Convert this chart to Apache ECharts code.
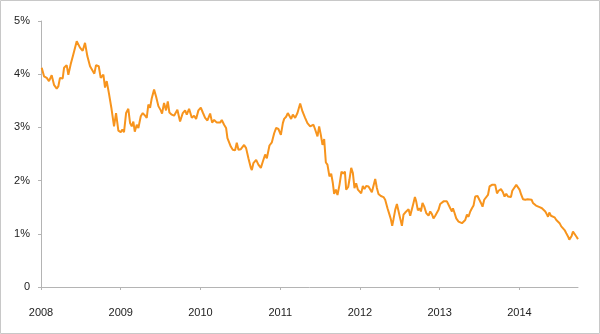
<!DOCTYPE html>
<html>
<head>
<meta charset="utf-8">
<script src="https://cdn.jsdelivr.net/npm/echarts@6/dist/echarts.min.js"></script>
<style>
  html, body { margin: 0; padding: 0; background: #fff; }
  #chart { width: 600px; height: 334px; }
</style>
</head>
<body>
<div id="chart"></div>
<script>
// time in decimal years, rate in percent
var years = [
  2008.009, 2008.038, 2008.072, 2008.100, 2008.134, 2008.163, 2008.197, 2008.217, 2008.238, 2008.272,
  2008.289, 2008.322, 2008.343, 2008.373, 2008.405, 2008.418, 2008.448, 2008.468, 2008.489, 2008.523,
  2008.552, 2008.581, 2008.615, 2008.640, 2008.669, 2008.690, 2008.724, 2008.749, 2008.782, 2008.803,
  2008.824, 2008.853, 2008.882, 2008.916, 2008.941, 2008.970, 2009.000, 2009.020, 2009.041, 2009.067,
  2009.095, 2009.117, 2009.138, 2009.158, 2009.176, 2009.201, 2009.221, 2009.251, 2009.276, 2009.305,
  2009.326, 2009.346, 2009.368, 2009.389, 2009.418, 2009.443, 2009.472, 2009.502, 2009.518, 2009.543,
  2009.568, 2009.590, 2009.610, 2009.640, 2009.669, 2009.694, 2009.710, 2009.744, 2009.778, 2009.807,
  2009.828, 2009.857, 2009.891, 2009.920, 2009.945, 2009.974, 2010.004, 2010.029, 2010.058, 2010.087,
  2010.121, 2010.146, 2010.171, 2010.205, 2010.246, 2010.267, 2010.296, 2010.321, 2010.338, 2010.363,
  2010.380, 2010.405, 2010.434, 2010.455, 2010.476, 2010.506, 2010.531, 2010.547, 2010.572, 2010.601,
  2010.631, 2010.644, 2010.664, 2010.698, 2010.726, 2010.757, 2010.782, 2010.811, 2010.832, 2010.865,
  2010.895, 2010.924, 2010.949, 2010.977, 2011.008, 2011.033, 2011.049, 2011.074, 2011.095, 2011.115,
  2011.137, 2011.158, 2011.187, 2011.216, 2011.250, 2011.279, 2011.312, 2011.341, 2011.375, 2011.397,
  2011.417, 2011.438, 2011.467, 2011.488, 2011.509, 2011.530, 2011.551, 2011.572, 2011.592, 2011.617,
  2011.639, 2011.660, 2011.676, 2011.698, 2011.718, 2011.743, 2011.768, 2011.789, 2011.811, 2011.827,
  2011.852, 2011.868, 2011.890, 2011.911, 2011.931, 2011.952, 2011.974, 2011.994, 2012.015, 2012.036,
  2012.056, 2012.078, 2012.107, 2012.128, 2012.149, 2012.169, 2012.191, 2012.212, 2012.232, 2012.262,
  2012.295, 2012.316, 2012.345, 2012.370, 2012.388, 2012.404, 2012.420, 2012.442, 2012.463, 2012.483,
  2012.504, 2012.526, 2012.546, 2012.567, 2012.588, 2012.609, 2012.630, 2012.651, 2012.671, 2012.689,
  2012.705, 2012.726, 2012.747, 2012.764, 2012.784, 2012.806, 2012.831, 2012.860, 2012.881, 2012.902,
  2012.922, 2012.944, 2012.965, 2012.985, 2013.006, 2013.028, 2013.048, 2013.069, 2013.090, 2013.110,
  2013.132, 2013.153, 2013.166, 2013.186, 2013.207, 2013.236, 2013.257, 2013.279, 2013.299, 2013.320,
  2013.341, 2013.361, 2013.383, 2013.404, 2013.424, 2013.445, 2013.474, 2013.496, 2013.517, 2013.537,
  2013.558, 2013.583, 2013.605, 2013.625, 2013.655, 2013.675, 2013.696, 2013.718, 2013.738, 2013.768,
  2013.793, 2013.813, 2013.834, 2013.856, 2013.876, 2013.893, 2013.910, 2013.935, 2013.960, 2013.981,
  2014.001, 2014.023, 2014.044, 2014.073, 2014.102, 2014.127, 2014.152, 2014.169, 2014.190, 2014.207,
  2014.227, 2014.252, 2014.282, 2014.302, 2014.324, 2014.345, 2014.358, 2014.374, 2014.395, 2014.420,
  2014.440, 2014.462, 2014.483, 2014.503, 2014.524, 2014.546, 2014.566, 2014.587, 2014.609, 2014.625,
  2014.641, 2014.654, 2014.671, 2014.691, 2014.713, 2014.734
];
var rates = [
  4.12, 3.96, 3.93, 3.87, 3.98, 3.80, 3.73, 3.77, 3.93, 3.92,
  4.12, 4.17, 3.99, 4.19, 4.37, 4.40, 4.62, 4.61, 4.50, 4.44,
  4.59, 4.34, 4.15, 4.18, 4.01, 4.17, 4.15, 3.93, 3.99, 3.75,
  3.87, 3.63, 3.37, 3.02, 3.27, 2.94, 2.91, 2.96, 2.91, 3.27,
  3.35, 3.08, 3.02, 3.11, 2.92, 3.05, 2.99, 3.21, 3.27, 3.22,
  3.18, 3.43, 3.37, 3.55, 3.71, 3.58, 3.40, 3.32, 3.26, 3.46,
  3.32, 3.49, 3.28, 3.24, 3.22, 3.24, 3.33, 3.11, 3.27, 3.32,
  3.24, 3.35, 3.18, 3.22, 3.16, 3.32, 3.37, 3.28, 3.18, 3.13,
  3.26, 3.09, 3.14, 3.09, 3.09, 3.14, 3.05, 2.99, 2.80, 2.83,
  2.64, 2.58, 2.57, 2.71, 2.58, 2.59, 2.58, 2.67, 2.61, 2.42,
  2.24, 2.20, 2.33, 2.39, 2.30, 2.24, 2.36, 2.49, 2.42, 2.66,
  2.72, 2.89, 2.99, 2.97, 2.86, 3.08, 3.16, 3.20, 3.27, 3.24,
  3.16, 3.24, 3.18, 3.27, 3.45, 3.30, 3.18, 3.08, 3.02, 3.01,
  3.05, 2.96, 2.83, 3.02, 2.86, 2.67, 2.78, 2.34, 2.30, 2.08,
  2.13, 1.95, 1.75, 1.83, 1.73, 1.92, 2.17, 2.13, 2.17, 1.83,
  1.88, 2.02, 2.24, 2.14, 1.86, 1.95, 1.83, 1.84, 1.76, 1.90,
  1.84, 1.90, 1.89, 1.88, 1.78, 1.78, 2.03, 1.86, 1.75, 1.71,
  1.69, 1.64, 1.48, 1.36, 1.27, 1.15, 1.27, 1.45, 1.56, 1.53,
  1.29, 1.15, 1.36, 1.40, 1.39, 1.46, 1.34, 1.32, 1.58, 1.69,
  1.61, 1.44, 1.48, 1.42, 1.58, 1.51, 1.39, 1.34, 1.42, 1.37,
  1.29, 1.34, 1.31, 1.45, 1.56, 1.56, 1.61, 1.64, 1.61, 1.61,
  1.48, 1.42, 1.48, 1.39, 1.29, 1.23, 1.23, 1.20, 1.23, 1.26,
  1.36, 1.32, 1.42, 1.48, 1.53, 1.70, 1.71, 1.70, 1.58, 1.51,
  1.64, 1.65, 1.73, 1.89, 1.92, 1.95, 1.92, 1.76, 1.81, 1.84,
  1.78, 1.70, 1.75, 1.70, 1.73, 1.69, 1.81, 1.83, 1.92, 1.92,
  1.83, 1.73, 1.65, 1.64, 1.65, 1.63, 1.64, 1.58, 1.61, 1.53,
  1.54, 1.50, 1.48, 1.45, 1.42, 1.36, 1.32, 1.40, 1.34, 1.32,
  1.31, 1.26, 1.23, 1.20, 1.14, 1.11, 1.07, 1.01, 0.95, 0.89,
  0.92, 0.96, 1.04, 1.01, 0.95, 0.90
];
var xTicks = [2008, 2009, 2010, 2011, 2012, 2013, 2014];
var xTickLabels = ['2008', '2009', '2010', '2011', '2012', '2013', '2014'];
var yTickLabels = ['0', '1%', '2%', '3%', '4%', '5%'];

var chart = echarts.init(document.getElementById('chart'), null, { renderer: 'canvas' });

var points = [];
for (var i = 0; i < years.length; i++) {
  points.push([years[i], rates[i]]);
}

var axisColor = '#b4b4b4';
var labelStyle = { color: '#222', fontFamily: 'Liberation Sans, Arial, sans-serif', fontSize: 11 };

var option = {
  animation: false,
  grid: { left: 41, right: 22, top: 21, bottom: 47 },
  graphic: [{
    type: 'rect',
    shape: { x: 0.5, y: 0.5, width: 599, height: 333 },
    style: { fill: 'none', stroke: '#c8c8c8', lineWidth: 1 },
    silent: true
  }],
  xAxis: {
    type: 'value',
    min: 2008,
    max: 2014.734,
    interval: 1,
    offset: 10,
    axisLine: { lineStyle: { color: axisColor, width: 1 } },
    axisTick: { show: true, length: 3, customValues: xTicks, lineStyle: { color: axisColor } },
    splitLine: { show: false },
    axisLabel: Object.assign({
      margin: 10,
      customValues: xTicks,
      formatter: function (v) {
        return xTickLabels[xTicks.indexOf(Math.round(v))] || '';
      }
    }, labelStyle)
  },
  yAxis: {
    type: 'value',
    min: 0,
    max: 5,
    interval: 1,
    axisLine: { show: true, lineStyle: { color: axisColor, width: 1 } },
    axisTick: { show: true, length: 3, lineStyle: { color: axisColor } },
    splitLine: { show: false },
    axisLabel: Object.assign({
      margin: 11,
      formatter: function (v) { return yTickLabels[Math.round(v)]; }
    }, labelStyle)
  },
  series: [{
    type: 'line',
    data: points,
    showSymbol: false,
    symbol: 'none',
    lineStyle: { color: '#f7941d', width: 2 },
    itemStyle: { color: '#f7941d' }
  }]
};

chart.setOption(option);
</script>
</body>
</html>
